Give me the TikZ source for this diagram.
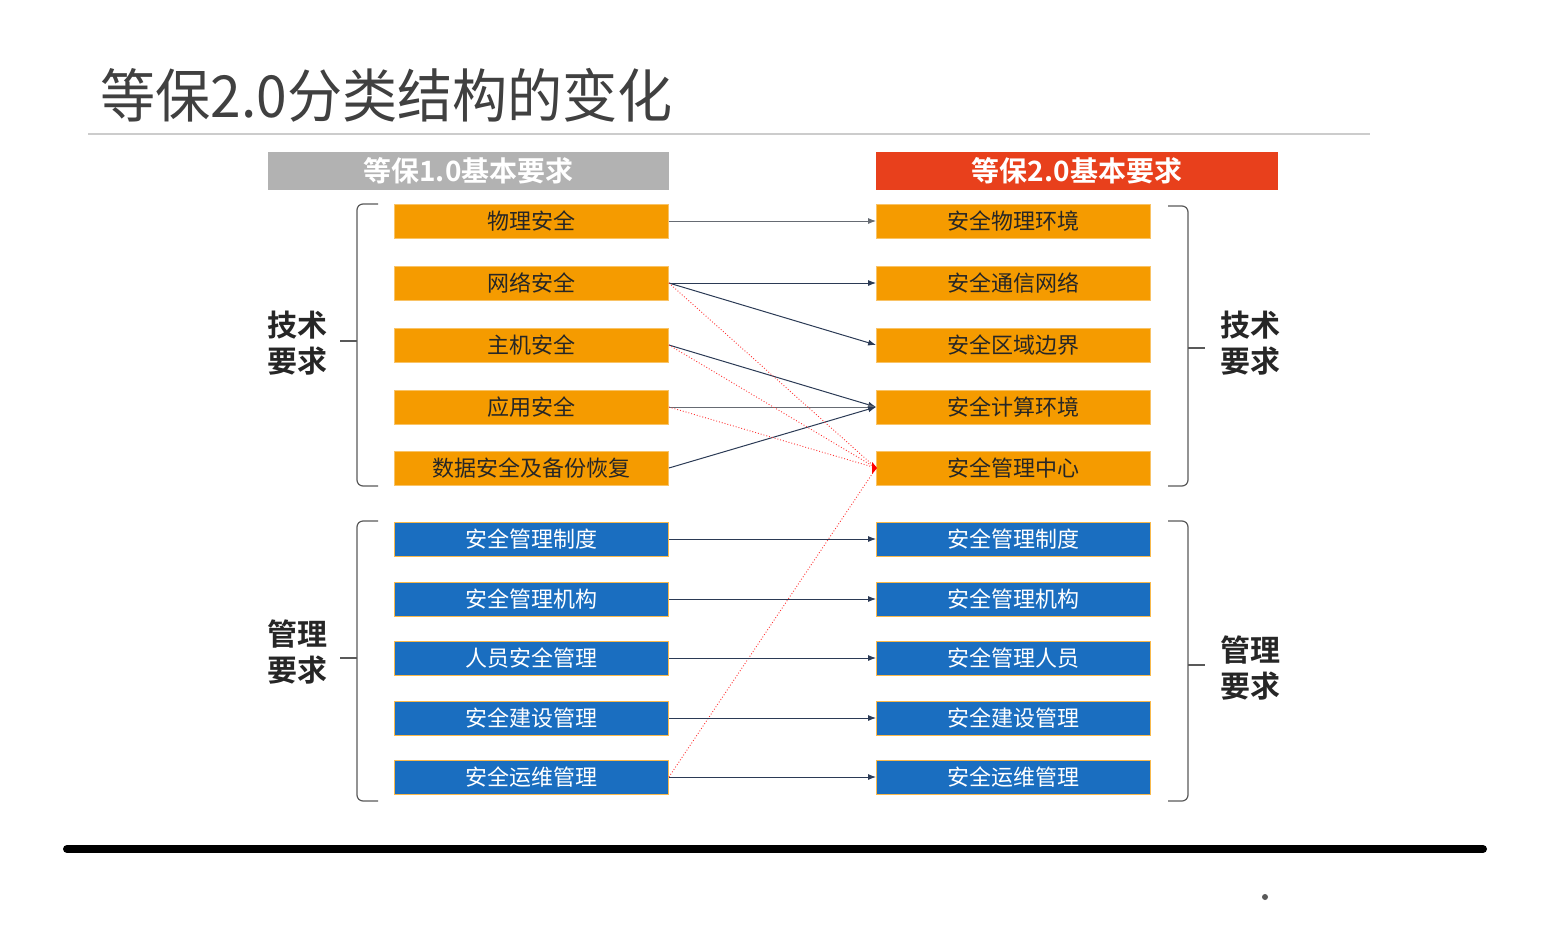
\documentclass[tikz,border=0pt]{standalone}
\usepackage{fontspec}
\setmainfont{Noto Sans CJK SC}
\newfontfamily\cjkb{Noto Sans CJK SC Bold}
\usetikzlibrary{arrows.meta}
\definecolor{org}{HTML}{F59B00}
\definecolor{blu}{HTML}{1A6EC0}
\definecolor{redh}{HTML}{E8401C}
\definecolor{navy}{HTML}{2B3A55}
\begin{document}
\begin{tikzpicture}[x=0.5pt,y=-0.5pt,
  obox/.style={draw=org!60!white,fill=org,minimum width=137pt,minimum height=17pt,inner sep=0pt,font=\fontsize{11}{12}\selectfont,text=black!85},
  bbox/.style={draw=org!70!white,fill=blu,minimum width=137pt,minimum height=17pt,inner sep=0pt,font=\fontsize{11}{12}\selectfont,text=white},
  arr/.style={-{Latex[length=4pt,width=3pt]},navy,line width=0.5pt},
  rarr/.style={red!80,densely dotted,line width=0.45pt},
  brk/.style={gray!70!black,line width=0.6pt,rounded corners=3pt},
  lab/.style={font=\cjkb\fontsize{15}{18}\selectfont,align=center,text=black!85}]
\useasboundingbox (0,0) rectangle (1549,949);
\node[anchor=west,text=black!75,font=\fontsize{29}{32}\selectfont,inner sep=0pt,xscale=0.95] (title) at (100,95) {等保2.0分类结构的变化};
\draw[gray!40,line width=1pt] (88,134) -- (1370,134);
\node[fill=gray!60,minimum width=200.5pt,minimum height=19pt,inner sep=0pt,text=white,font=\cjkb\fontsize{14}{16}\selectfont] (hl) at (468.5,171) {等保1.0基本要求};
\node[fill=redh,minimum width=201pt,minimum height=19pt,inner sep=0pt,text=white,font=\cjkb\fontsize{14}{16}\selectfont] (hr) at (1077,171) {等保2.0基本要求};
% left
\node[obox] (l1) at (531.5,221) {物理安全};
\node[obox] (l2) at (531.5,283) {网络安全};
\node[obox] (l3) at (531.5,345) {主机安全};
\node[obox] (l4) at (531.5,407) {应用安全};
\node[obox] (l5) at (531.5,468) {数据安全及备份恢复};
\node[bbox] (l6) at (531.5,539) {安全管理制度};
\node[bbox] (l7) at (531.5,599) {安全管理机构};
\node[bbox] (l8) at (531.5,658) {人员安全管理};
\node[bbox] (l9) at (531.5,718) {安全建设管理};
\node[bbox] (l10) at (531.5,777) {安全运维管理};
% right
\node[obox] (r1) at (1013.5,221) {安全物理环境};
\node[obox] (r2) at (1013.5,283) {安全通信网络};
\node[obox] (r3) at (1013.5,345) {安全区域边界};
\node[obox] (r4) at (1013.5,407) {安全计算环境};
\node[obox] (r5) at (1013.5,468) {安全管理中心};
\node[bbox] (r6) at (1013.5,539) {安全管理制度};
\node[bbox] (r7) at (1013.5,599) {安全管理机构};
\node[bbox] (r8) at (1013.5,658) {安全管理人员};
\node[bbox] (r9) at (1013.5,718) {安全建设管理};
\node[bbox] (r10) at (1013.5,777) {安全运维管理};
% arrows
\draw[arr,gray!70!navy] (l1.east) -- (r1.west);
\draw[arr] (l2.east) -- (r2.west);
\draw[arr] (l2.east) -- (r3.west);
\draw[arr] (l3.east) -- (r4.west);
\draw[arr,gray!70!navy] (l4.east) -- (r4.west);
\draw[arr] (l5.east) -- (r4.west);
\draw[rarr] (l2.east) -- (r5.west);
\draw[rarr] (l3.east) -- (r5.west);
\draw[rarr] (l4.east) -- (r5.west);
\draw[rarr] (l10.east) -- (r5.west);
\fill[red] (r5.west) ++(-4,-6) -- ++(5,6) -- ++(-5,6) -- cycle;
\foreach \i in {6,...,10} \draw[arr] (l\i.east) -- (r\i.west);
% brackets
\draw[brk] (378,204) -- (357,204) -- (357,486) -- (378,486);
\draw[gray!70!black,line width=0.6pt] (357,341) -- (340,341);
\draw[brk] (378,521) -- (357,521) -- (357,801) -- (378,801);
\draw[gray!70!black,line width=0.6pt] (357,658) -- (340,658);
\draw[brk] (1168,206) -- (1188,206) -- (1188,486) -- (1168,486);
\draw[gray!70!black,line width=0.6pt] (1188,348) -- (1205,348);
\draw[brk] (1168,521) -- (1188,521) -- (1188,801) -- (1168,801);
\draw[gray!70!black,line width=0.6pt] (1188,665) -- (1205,665);
\node[lab] (tl) at (297,343) {技术\\要求};
\node[lab] (ml) at (297,652) {管理\\要求};
\node[lab] (tr) at (1250,343) {技术\\要求};
\node[lab] (mr) at (1250,668) {管理\\要求};
\draw[black,line width=4pt,line cap=round] (67,849) -- (1483,849);
\fill[gray!70!black] (1265,897) circle (3);
\end{tikzpicture}
\end{document}
